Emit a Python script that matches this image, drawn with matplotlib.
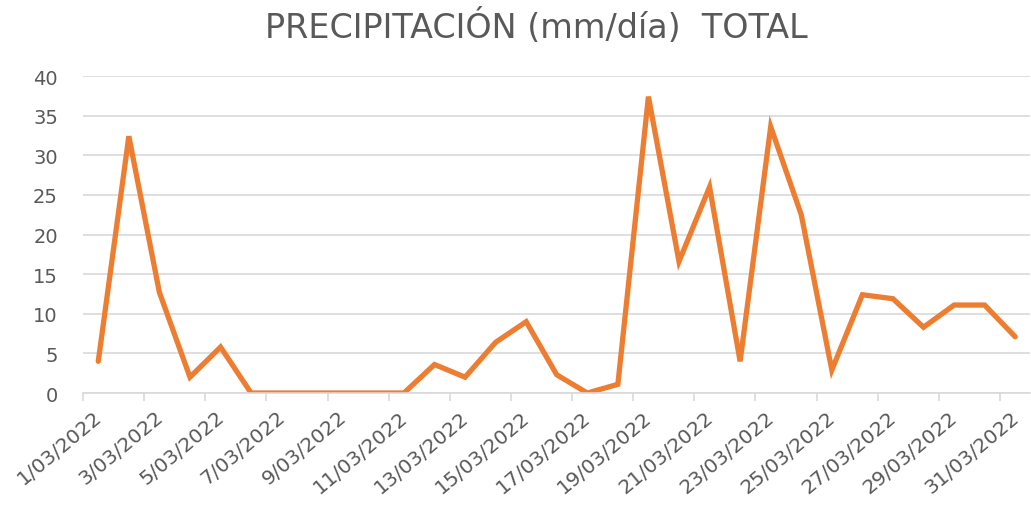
import matplotlib
matplotlib.use("Agg")
import matplotlib.pyplot as plt
from matplotlib.ticker import FixedLocator, NullFormatter
from matplotlib.transforms import ScaledTranslation

days = list(range(1, 32))
precip = [4.0, 32.4, 12.7, 2.0, 5.8, 0.0, 0.0, 0.0, 0.0, 0.0, 0.0,
          3.6, 2.0, 6.4, 9.0, 2.3, 0.0, 1.1, 37.4, 16.6, 26.0, 4.0,
          33.6, 22.5, 2.9, 12.4, 11.9, 8.3, 11.1, 11.1, 7.1]
tick_days = list(range(1, 32, 2))
tick_labels = [f"{d}/03/2022" for d in tick_days]
y_ticks = [0, 5, 10, 15, 20, 25, 30, 35, 40]
title = "PRECIPITACIÓN (mm/día)  TOTAL"

plt.rcParams['font.family'] = ['DejaVu Sans']
gray = '#595959'
grid = '#D9D9D9'

fig = plt.figure(figsize=(10.31, 5.06), dpi=100)
ax = fig.add_axes([0.0805, 0.2213, 0.919, 0.6265])
ax.plot(days, precip, color='#ED7D31', linewidth=3.8, solid_joinstyle='miter', solid_capstyle='round')
ax.set_xlim(0.5, 31.5)
ax.set_ylim(0, 40)
ax.set_yticks(y_ticks)
ax.yaxis.grid(True, color=grid, linewidth=1.2)
ax.set_axisbelow(True)
for s in ['top', 'right', 'left']:
    ax.spines[s].set_visible(False)
ax.spines['bottom'].set_color(grid)
ax.spines['bottom'].set_linewidth(1.2)
ax.tick_params(axis='y', length=0, pad=18, labelsize=14, labelcolor=gray)
ax.set_xticks(tick_days)
ax.set_xticklabels(tick_labels, rotation=40, ha='right', va='top', rotation_mode='anchor')
ax.tick_params(axis='x', which='major', length=0, pad=10, labelsize=14.5, labelcolor=gray)
offset = ScaledTranslation(-5 / 100, 0, fig.dpi_scale_trans)
for lab in ax.get_xticklabels():
    lab.set_transform(lab.get_transform() + offset)
ax.xaxis.set_minor_locator(FixedLocator([d - 0.5 for d in tick_days]))
ax.xaxis.set_minor_formatter(NullFormatter())
ax.tick_params(axis='x', which='minor', length=6, width=1.2, color=grid, direction='out')
fig.text(0.52, 0.947, title, ha='center', va='center', fontsize=24, color=gray)
fig.savefig('out.png', dpi=100)
